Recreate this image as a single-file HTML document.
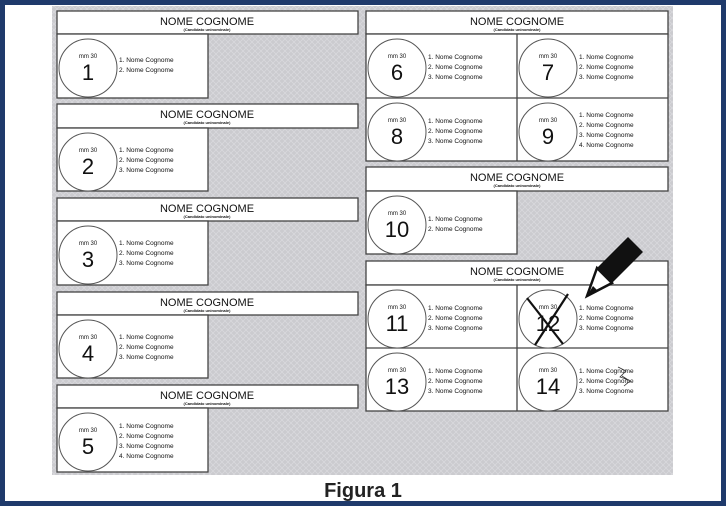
<!DOCTYPE html>
<html><head><meta charset="utf-8"><style>
html,body{margin:0;padding:0;width:726px;height:506px;overflow:hidden;background:#fff}
svg{display:block}
text{font-family:"Liberation Sans",sans-serif;fill:#111}
</style></head><body>
<svg width="726" height="506" viewBox="0 0 726 506">
<defs>
<pattern id="hatch" width="6" height="6" patternUnits="userSpaceOnUse">
<rect width="6" height="6" fill="#cbcbcf"/>
<path d="M0 6L6 0M0 0L6 6" stroke="#d8d8dc" stroke-width="0.8"/>
</pattern>
</defs>
<rect x="0" y="0" width="726" height="506" fill="#1f3a6b"/>
<rect x="5" y="5" width="716" height="496" fill="#fff"/>
<rect x="52" y="6" width="621" height="469" fill="url(#hatch)"/>
<g stroke="#444" stroke-width="1.3" fill="#fff">
<rect x="57" y="11" width="301" height="23"/><rect x="57" y="34" width="151" height="64"/>
<rect x="57" y="104" width="301" height="24"/><rect x="57" y="128" width="151" height="63"/>
<rect x="57" y="198" width="301" height="23"/><rect x="57" y="221" width="151" height="64"/>
<rect x="57" y="292" width="301" height="23"/><rect x="57" y="315" width="151" height="63"/>
<rect x="57" y="385" width="301" height="23"/><rect x="57" y="408" width="151" height="64"/>
<rect x="366" y="11" width="302" height="23"/><rect x="366" y="34" width="302" height="127"/>
<line x1="517" y1="34" x2="517" y2="161"/><line x1="366" y1="98" x2="668" y2="98"/>
<rect x="366" y="167" width="302" height="24"/><rect x="366" y="191" width="151" height="63"/>
<rect x="366" y="261" width="302" height="24"/><rect x="366" y="285" width="302" height="126"/>
<line x1="517" y1="285" x2="517" y2="411"/><line x1="366" y1="348" x2="668" y2="348"/>
</g>
<g text-anchor="middle">
<text x="207" y="25" font-size="11">NOME COGNOME</text><text x="207" y="31" font-size="4" font-weight="bold">(Candidato uninominale)</text>
<text x="207" y="118" font-size="11">NOME COGNOME</text><text x="207" y="124" font-size="4" font-weight="bold">(Candidato uninominale)</text>
<text x="207" y="212" font-size="11">NOME COGNOME</text><text x="207" y="218" font-size="4" font-weight="bold">(Candidato uninominale)</text>
<text x="207" y="306" font-size="11">NOME COGNOME</text><text x="207" y="312" font-size="4" font-weight="bold">(Candidato uninominale)</text>
<text x="207" y="399" font-size="11">NOME COGNOME</text><text x="207" y="405" font-size="4" font-weight="bold">(Candidato uninominale)</text>
<text x="517" y="25" font-size="11">NOME COGNOME</text><text x="517" y="31" font-size="4" font-weight="bold">(Candidato uninominale)</text>
<text x="517" y="181" font-size="11">NOME COGNOME</text><text x="517" y="187" font-size="4" font-weight="bold">(Candidato uninominale)</text>
<text x="517" y="275" font-size="11">NOME COGNOME</text><text x="517" y="281" font-size="4" font-weight="bold">(Candidato uninominale)</text>
</g>
<g fill="#fff" stroke="#555" stroke-width="1">
<circle cx="88" cy="68" r="29"/><circle cx="88" cy="162" r="29"/><circle cx="88" cy="255" r="29"/>
<circle cx="88" cy="349" r="29"/><circle cx="88" cy="442" r="29"/>
<circle cx="397" cy="68" r="29"/><circle cx="548" cy="68" r="29"/><circle cx="397" cy="132" r="29"/><circle cx="548" cy="132" r="29"/>
<circle cx="397" cy="225" r="29"/>
<circle cx="397" cy="319" r="29"/><circle cx="548" cy="319" r="29"/><circle cx="397" cy="382" r="29"/><circle cx="548" cy="382" r="29"/>
</g>
<g text-anchor="middle" font-size="6">
<text x="88" y="58">mm 30</text><text x="88" y="152">mm 30</text><text x="88" y="245">mm 30</text><text x="88" y="339">mm 30</text><text x="88" y="432">mm 30</text>
<text x="397" y="58">mm 30</text><text x="548" y="58">mm 30</text><text x="397" y="122">mm 30</text><text x="548" y="122">mm 30</text>
<text x="397" y="215">mm 30</text>
<text x="397" y="309">mm 30</text><text x="548" y="309">mm 30</text><text x="397" y="372">mm 30</text><text x="548" y="372">mm 30</text>
</g>
<g text-anchor="middle" font-size="22">
<text x="88" y="80">1</text><text x="88" y="174">2</text><text x="88" y="267">3</text><text x="88" y="361">4</text><text x="88" y="454">5</text>
<text x="397" y="80">6</text><text x="548" y="80">7</text><text x="397" y="144">8</text><text x="548" y="144">9</text>
<text x="397" y="237">10</text>
<text x="397" y="331">11</text><text x="548" y="331">12</text><text x="397" y="394">13</text><text x="548" y="394">14</text>
</g>
<g font-size="6.5">
<text x="119" y="62">1.  Nome Cognome</text><text x="119" y="72">2.  Nome Cognome</text>
<text x="119" y="152">1.  Nome Cognome</text><text x="119" y="162">2.  Nome Cognome</text><text x="119" y="172">3.  Nome Cognome</text>
<text x="119" y="245">1.  Nome Cognome</text><text x="119" y="255">2.  Nome Cognome</text><text x="119" y="265">3.  Nome Cognome</text>
<text x="119" y="339">1.  Nome Cognome</text><text x="119" y="349">2.  Nome Cognome</text><text x="119" y="359">3.  Nome Cognome</text>
<text x="119" y="428">1.  Nome Cognome</text><text x="119" y="438">2.  Nome Cognome</text><text x="119" y="448">3.  Nome Cognome</text><text x="119" y="458">4.  Nome Cognome</text>
<text x="428" y="59">1.  Nome Cognome</text><text x="428" y="69">2.  Nome Cognome</text><text x="428" y="79">3.  Nome Cognome</text>
<text x="579" y="59">1.  Nome Cognome</text><text x="579" y="69">2.  Nome Cognome</text><text x="579" y="79">3.  Nome Cognome</text>
<text x="428" y="123">1.  Nome Cognome</text><text x="428" y="133">2.  Nome Cognome</text><text x="428" y="143">3.  Nome Cognome</text>
<text x="579" y="117">1.  Nome Cognome</text><text x="579" y="127">2.  Nome Cognome</text><text x="579" y="137">3.  Nome Cognome</text><text x="579" y="147">4.  Nome Cognome</text>
<text x="428" y="221">1.  Nome Cognome</text><text x="428" y="231">2.  Nome Cognome</text>
<text x="428" y="310">1.  Nome Cognome</text><text x="428" y="320">2.  Nome Cognome</text><text x="428" y="330">3.  Nome Cognome</text>
<text x="579" y="310">1.  Nome Cognome</text><text x="579" y="320">2.  Nome Cognome</text><text x="579" y="330">3.  Nome Cognome</text>
<text x="428" y="373">1.  Nome Cognome</text><text x="428" y="383">2.  Nome Cognome</text><text x="428" y="393">3.  Nome Cognome</text>
<text x="579" y="373">1.  Nome Cognome</text><text x="579" y="383">2.  Nome Cognome</text><text x="579" y="393">3.  Nome Cognome</text>
</g>
<g stroke="#111" stroke-width="2.2">
<line x1="527" y1="298" x2="563" y2="344"/><line x1="568" y1="294" x2="535" y2="345"/>
</g>
<g stroke="#333" stroke-width="0.8" fill="none">
<path d="M618 367l8 4l-6 6l9 3M622 376l8 5l-6 5"/>
</g>
<g>
<polygon points="628,237 643,252 612,283 597,268" fill="#111"/>
<polygon points="597,268 612,283 587,296" fill="#fff" stroke="#111" stroke-width="2.5"/>
<polygon points="587,296 593,286 597,290" fill="#111"/>
</g>
<text x="363" y="497" text-anchor="middle" font-size="20" font-weight="bold" style="fill:#222">Figura 1</text>
</svg>
</body></html>
